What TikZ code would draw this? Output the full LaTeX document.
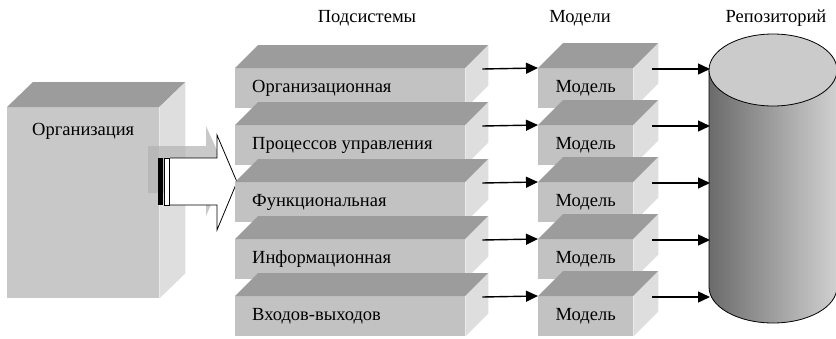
\documentclass[tikz,border=0pt]{standalone}
\usepackage{fontspec}
\setmainfont{Liberation Serif}
\usetikzlibrary{arrows.meta,calc,shapes.geometric}

\definecolor{frontgray}{HTML}{C2C2C2}
\definecolor{topgray}{HTML}{9C9C9C}
\definecolor{sidegray}{HTML}{DEDEDE}
\definecolor{capgray}{HTML}{CBCBCB}

\pgfdeclarehorizontalshading{cylbody}{100bp}{%
  color(0bp)=(black!72); color(25bp)=(black!58); color(60bp)=(black!30);
  color(78bp)=(black!16); color(90bp)=(black!38); color(100bp)=(black!60)}

\begin{document}
\begin{tikzpicture}[x=1pt,y=-1pt,
  lbl/.style={font=\fontsize{18.5}{20}\selectfont, inner sep=0pt},
  face/.style={draw=none, inner sep=0pt, fill=frontgray},
  flow/.style={line width=1.4pt, -{Triangle[length=12pt,width=11pt]}},
]
\useasboundingbox (0,0) rectangle (836,338);

% ---- block drawing helper: front node name, depth dx/dy
\newcommand{\slabfaces}[3]{%
  \fill[topgray] (#1.north west) -- ++(#2,-#3) -- ($(#1.north east)+(#2,-#3)$) -- (#1.north east) -- cycle;
  \fill[sidegray] (#1.north east) -- ++(#2,-#3) -- ($(#1.south east)+(#2,-#3)$) -- (#1.south east) -- cycle;
}

% ---- Organisation block
\node[face, fill=frontgray!90!white, minimum width=152, minimum height=191, anchor=north west] (org) at (7,107) {};
\slabfaces{org}{26}{25}
\node[lbl, anchor=west] (orgt) at (32,131) {Организация};

% ---- hollow transfer arrow with grey shadow
\fill[black!30, opacity=0.7] (148,146) -- (206,146) -- (206,126) -- (226,170) -- (206,216) -- (206,193) -- (148,193) -- cycle;
\fill[black] (158,158) rectangle (163,205);
\draw[line width=0.7pt, fill=white] (164.5,158) rectangle (169.5,205);
\draw[line width=0.8pt, fill=white] (170,158) -- (217,158) -- (217,135) -- (237,182) -- (217,230) -- (217,205) -- (170,205);
\coordinate (bigtip) at (237,182);

% ---- subsystem slabs
\foreach \i/\y/\t in {1/68/Организационная, 2/125/Процессов управления, 3/182/Функциональная, 4/239/Информационная, 5/296/Входов-выходов}{
  \node[face, minimum width=230, minimum height=40, anchor=north west] (L\i) at (235,\y) {};
  \slabfaces{L\i}{23}{23}
  \node[lbl, anchor=west] (Lt\i) at (252,\y+20) {\t};
  \node[face, minimum width=95, minimum height=40, anchor=north west] (M\i) at (538,\y) {};
  \slabfaces{M\i}{25}{25}
  \node[lbl] (Mt\i) at (M\i) {Модель};
  \coordinate (LS\i) at ($(L\i.north east)+(17,1)$);
  \coordinate (MS\i) at ($(M\i.north east)+(19,1)$);
  \coordinate (RT\i) at (710,\y+1);
}

% ---- repository cylinder
\path[shading=cylbody, draw=black, line width=0.8pt]
  (709,70) -- (709,287) arc[start angle=180, end angle=0, x radius=64, y radius=36] -- (837,70) -- cycle;
\node[draw=black, line width=0.8pt, fill=capgray, ellipse, minimum width=128, minimum height=72, inner sep=0pt] (repo) at (773,70) {};

% ---- flows
\foreach \i in {1,...,5}{
  \draw[flow] (LS\i) -- (M\i.north west);
  \draw[flow] (MS\i) -- (RT\i);
}

% ---- column titles
\node[lbl] (h1) at (367,18) {Подсистемы};
\node[lbl] (h2) at (580,18) {Модели};
\node[lbl] (h3) at (776,18) {Репозиторий};
\end{tikzpicture}
\end{document}
